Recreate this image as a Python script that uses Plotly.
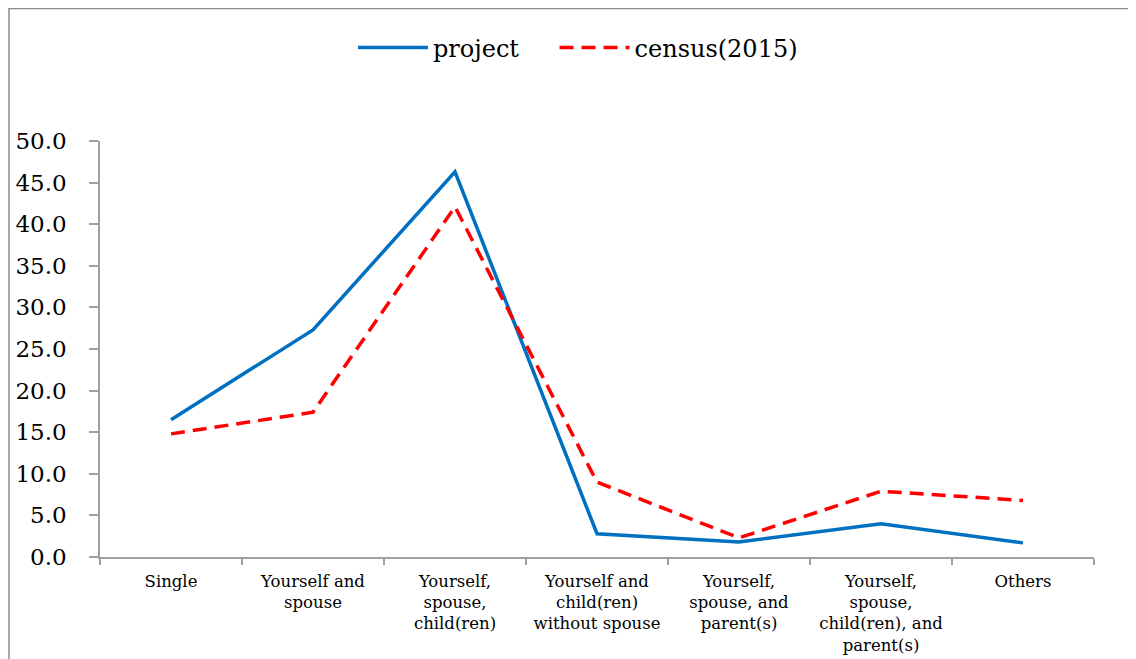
import plotly.graph_objects as go

categories = ["Single", "Yourself and<br>spouse", "Yourself,<br>spouse,<br>child(ren)",
              "Yourself and<br>child(ren)<br>without spouse", "Yourself,<br>spouse, and<br>parent(s)",
              "Yourself,<br>spouse,<br>child(ren), and<br>parent(s)", "Others"]
project = [16.5, 27.3, 46.3, 2.8, 1.8, 4.0, 1.7]
census = [14.8, 17.4, 42.1, 9.0, 2.3, 7.9, 6.8]
y_ticks = [0, 5, 10, 15, 20, 25, 30, 35, 40, 45, 50]

FONT = "DejaVu Serif"
NB = "\u00a0"

fig = go.Figure()
fig.add_trace(go.Scatter(x=categories, y=project, mode="lines", name="project" + NB * 4,
                         line=dict(color="#0070C0", width=3.5)))
fig.add_trace(go.Scatter(x=categories, y=census, mode="lines", name="census(2015)",
                         line=dict(color="#FF0000", width=3.5, dash="14px,8px")))

# page body has an 8px margin; compensate so the plot sits where the reference has it
OFF = 8
W, H = 1136 - OFF, 659 - OFF
L, R, T, B = 100 - OFF, 42, 141 - OFF, 102
pw, ph = W - L - R, H - T - B

def px_x(p):
    return (p - OFF - L) / pw

def px_y(p):
    return (H - B - (p - OFF)) / ph

fig.add_shape(type="rect", xref="paper", yref="paper",
              x0=px_x(9), x1=px_x(1160), y0=px_y(8.5), y1=px_y(700),
              line=dict(color="#8c8c8c", width=1.5), fillcolor="rgba(0,0,0,0)", layer="below")

fig.update_layout(
    width=W, height=H,
    margin=dict(l=L, r=R, t=T, b=B, autoexpand=False),
    paper_bgcolor="white", plot_bgcolor="white",
    font=dict(family=FONT, color="black"),
    showlegend=True,
    legend=dict(orientation="h", x=0.5 - 19 / pw, xanchor="center", y=px_y(48), yanchor="middle",
                font=dict(family=FONT, size=24), itemwidth=70, bgcolor="rgba(0,0,0,0)",
                traceorder="normal"),
    xaxis=dict(type="category", range=[-0.5, 6.5], showline=True, linecolor="#a0a0a0", linewidth=1.5,
               ticks="outside", tickson="boundaries", ticklen=6, tickcolor="#a0a0a0",
               tickwidth=1.5, showgrid=False, zeroline=False, ticklabelstandoff=8,
               tickfont=dict(family=FONT, size=16.5), tickangle=0),
    yaxis=dict(range=[0, 50], tickvals=y_ticks, ticktext=[f"{v:.1f}" for v in y_ticks],
               showline=True, linecolor="#a0a0a0", linewidth=1.5,
               ticks="outside", ticklen=9, tickcolor="#a0a0a0", tickwidth=1.5,
               showgrid=False, zeroline=False, ticklabelstandoff=18,
               tickfont=dict(family=FONT, size=23)),
)

fig.write_html("out.html")
